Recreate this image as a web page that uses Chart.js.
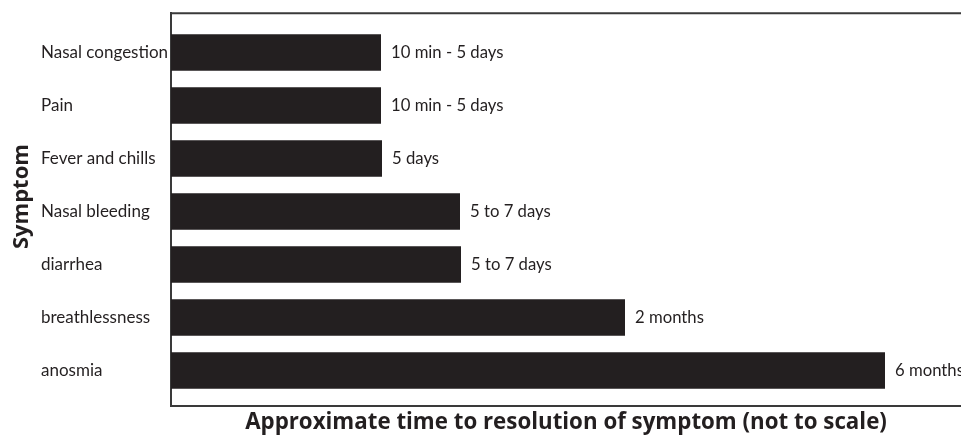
<!DOCTYPE html>
<html>
<head>
<meta charset="utf-8">
<script src="https://cdn.jsdelivr.net/npm/chart.js@4/dist/chart.umd.min.js"></script>
<style>
  html, body { margin: 0; padding: 0; background: #ffffff; }
  #wrap { width: 961px; height: 436px; position: relative; }
</style>
</head>
<body>
<div id="wrap"><canvas id="c"></canvas></div>
<script>
// Categories (top to bottom)
const symptoms = ["Nasal congestion", "Pain", "Fever and chills", "Nasal bleeding", "diarrhea", "breathlessness", "anosmia"];
// Relative bar lengths (axis is "not to scale")
const barLengths = [210, 210, 211, 289, 290, 454, 714];
// Labels shown at the end of each bar
const durationLabels = ["10 min - 5 days", "10 min - 5 days", "5 days", "5 to 7 days", "5 to 7 days", "2 months", "6 months"];

const yTitle = "Symptom";
const xTitle = "Approximate time to resolution of symptom (not to scale)";

const INK = "#231f20";
const LINE = "#3a3a3a";
const FONT = "Lato, 'Open Sans', sans-serif";
const TFONT = "'Open Sans', Lato, sans-serif";

const extrasPlugin = {
  id: "extras",
  afterDatasetsDraw(chart) {
    const ctx = chart.ctx;
    const meta = chart.getDatasetMeta(0);
    ctx.save();
    ctx.fillStyle = INK;
    ctx.font = "16.7px " + FONT;
    ctx.textBaseline = "middle";
    ctx.textAlign = "left";
    meta.data.forEach((bar, i) => {
      ctx.fillText(durationLabels[i], bar.x + 10, bar.y);
    });
    // top frame line
    const a = chart.chartArea;
    ctx.strokeStyle = LINE;
    ctx.lineWidth = 2;
    ctx.beginPath();
    ctx.moveTo(a.left - 1, a.top);
    ctx.lineTo(chart.width, a.top);
    ctx.stroke();
    // vertical y-axis title
    ctx.translate(22, (a.top + a.bottom) / 2 - 13);
    ctx.rotate(-Math.PI / 2);
    ctx.textAlign = "center";
    ctx.font = "bold 22px " + TFONT;
    ctx.fillText(yTitle, 0, 0);
    ctx.restore();
  }
};

new Chart(document.getElementById("c"), {
  type: "bar",
  data: {
    datasets: [{
      data: barLengths.map((v, i) => ({ x: v, y: i })),
      backgroundColor: INK,
      borderWidth: 0,
      barPercentage: 0.69,
      categoryPercentage: 1.0
    }]
  },
  options: {
    indexAxis: "y",
    responsive: true,
    maintainAspectRatio: false,
    animation: false,
    layout: { padding: { left: 41, right: 0, top: 12, bottom: 0 } },
    plugins: { legend: { display: false }, tooltip: { enabled: false } },
    scales: {
      x: {
        type: "linear",
        min: 0,
        max: 790,
        grid: { display: false },
        ticks: { display: false },
        border: { display: true, color: LINE, width: 2 },
        title: {
          display: true,
          text: xTitle,
          color: INK,
          font: { family: TFONT, size: 22.3, weight: "bold" },
          padding: { top: 3, bottom: 0 }
        },
        afterFit(s) { s.height = 30; }
      },
      y: {
        type: "linear",
        reverse: true,
        offset: false,
        bounds: "data",
        min: -0.74,
        max: 6.67,
        grid: { display: false, offset: false },
        border: { display: true, color: LINE, width: 2 },
        ticks: {
          autoSkip: false,
          crossAlign: "far",
          color: INK,
          font: { family: FONT, size: 17 },
          callback: (v) => symptoms[v] !== undefined ? symptoms[v] : ""
        },
        afterBuildTicks(s) { s.ticks = symptoms.map((_, i) => ({ value: i })); },
        afterFit(s) { s.width = 130; }
      }
    }
  },
  plugins: [extrasPlugin]
});
</script>
</body>
</html>
